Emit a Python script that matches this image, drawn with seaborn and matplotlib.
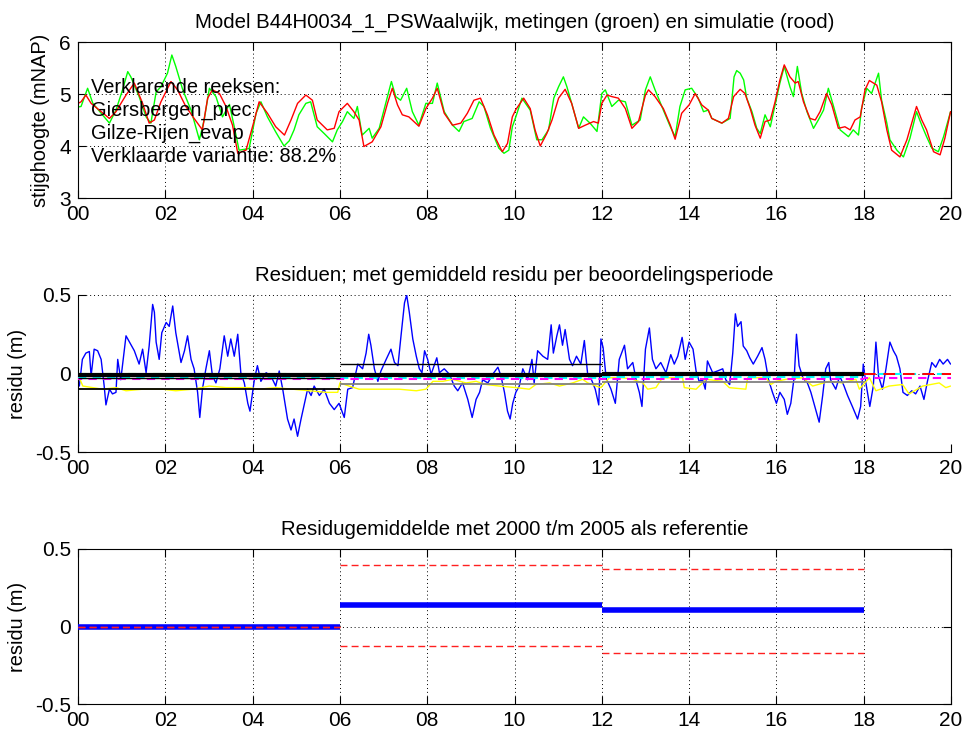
import numpy as np
import pandas as pd
import matplotlib
matplotlib.use("Agg")
import matplotlib.pyplot as plt
import seaborn as sns

# ---------------- data ----------------
meas_t = [2000.00, 2000.07, 2000.22, 2000.34, 2000.56, 2000.72, 2000.87, 2001.02, 2001.14, 2001.21,
          2001.40, 2001.56, 2001.67, 2001.79, 2001.90, 2002.05, 2002.15, 2002.24, 2002.40, 2002.59,
          2002.78, 2002.89, 2003.01, 2003.16, 2003.31, 2003.47, 2003.58, 2003.69, 2003.92, 2004.08,
          2004.19, 2004.34, 2004.53, 2004.72, 2004.84, 2004.95, 2005.06, 2005.22, 2005.33, 2005.48,
          2005.64, 2005.83, 2005.94, 2006.06, 2006.17, 2006.32, 2006.40, 2006.51, 2006.67, 2006.74,
          2006.90, 2007.05, 2007.18, 2007.28, 2007.39, 2007.53, 2007.66, 2007.81, 2007.97, 2008.12,
          2008.23, 2008.39, 2008.58, 2008.73, 2008.84, 2009.03, 2009.19, 2009.30, 2009.45, 2009.64,
          2009.76, 2009.87, 2009.95, 2010.03, 2010.17, 2010.36, 2010.51, 2010.63, 2010.78, 2010.90,
          2011.01, 2011.12, 2011.20, 2011.31, 2011.47, 2011.58, 2011.73, 2011.89, 2012.00, 2012.08,
          2012.23, 2012.38, 2012.54, 2012.69, 2012.88, 2013.00, 2013.11, 2013.22, 2013.41, 2013.57,
          2013.68, 2013.79, 2013.91, 2014.06, 2014.21, 2014.33, 2014.44, 2014.52, 2014.75, 2014.94,
          2015.03, 2015.09, 2015.17, 2015.25, 2015.32, 2015.44, 2015.55, 2015.63, 2015.74, 2015.86,
          2015.97, 2016.08, 2016.18, 2016.31, 2016.39, 2016.48, 2016.58, 2016.70, 2016.85, 2016.96,
          2017.08, 2017.19, 2017.31, 2017.46, 2017.65, 2017.76, 2017.88, 2017.95, 2018.07, 2018.18,
          2018.34, 2018.41, 2018.53, 2018.60, 2018.76, 2018.91, 2019.06, 2019.21, 2019.33, 2019.44,
          2019.56, 2019.71, 2019.83, 2019.99]
meas_v = [4.75, 4.76, 5.11, 4.82, 4.60, 4.44, 4.69, 5.08, 5.43, 5.33,
          4.95, 4.56, 4.44, 5.04, 5.14, 5.40, 5.75, 5.53, 5.08, 4.69,
          4.12, 4.50, 5.11, 4.95, 4.56, 4.80, 4.37, 3.92, 3.95, 4.63,
          4.85, 4.56, 4.27, 4.00, 4.10, 4.31, 4.60, 4.82, 4.85, 4.37,
          4.24, 4.08, 4.31, 4.47, 4.66, 4.53, 4.76, 4.21, 4.34, 4.15,
          4.34, 4.82, 5.24, 4.95, 4.88, 5.11, 4.66, 4.40, 4.82, 4.82,
          5.21, 4.66, 4.40, 4.28, 4.47, 4.53, 4.85, 4.76, 4.34, 3.96,
          3.86, 3.92, 4.37, 4.56, 4.92, 4.69, 4.12, 4.12, 4.31, 4.92,
          5.14, 5.33, 5.14, 4.82, 4.34, 4.56, 4.44, 4.28, 5.01, 5.08,
          4.76, 4.88, 4.85, 4.40, 4.50, 5.08, 5.33, 5.08, 4.69, 4.37,
          4.18, 4.76, 5.08, 5.11, 4.92, 4.66, 4.69, 4.53, 4.44, 4.53,
          5.33, 5.45, 5.40, 5.27, 4.92, 4.66, 4.34, 4.24, 4.60, 4.37,
          4.79, 5.21, 5.53, 5.14, 4.95, 5.53, 5.01, 4.66, 4.34, 4.50,
          4.69, 5.11, 4.76, 4.31, 4.18, 4.31, 4.21, 4.72, 5.11, 5.01,
          5.40, 4.88, 4.44, 4.12, 3.92, 3.79, 4.15, 4.66, 4.40, 4.18,
          3.96, 3.89, 4.18, 4.66]

sim_t = [2000.00, 2000.07, 2000.18, 2000.30, 2000.49, 2000.72, 2000.87, 2001.10, 2001.29, 2001.48,
         2001.63, 2001.75, 2001.90, 2002.13, 2002.28, 2002.47, 2002.66, 2002.85, 2002.97, 2003.08,
         2003.24, 2003.39, 2003.54, 2003.66, 2003.85, 2004.04, 2004.15, 2004.34, 2004.53, 2004.73,
         2004.88, 2005.03, 2005.22, 2005.37, 2005.48, 2005.60, 2005.71, 2005.87, 2005.98, 2006.17,
         2006.32, 2006.44, 2006.55, 2006.74, 2006.94, 2007.09, 2007.20, 2007.32, 2007.43, 2007.58,
         2007.81, 2007.97, 2008.12, 2008.23, 2008.39, 2008.58, 2008.77, 2008.92, 2009.07, 2009.22,
         2009.38, 2009.53, 2009.72, 2009.84, 2009.95, 2010.03, 2010.21, 2010.36, 2010.47, 2010.59,
         2010.74, 2010.86, 2011.01, 2011.16, 2011.31, 2011.47, 2011.62, 2011.81, 2011.92, 2012.00,
         2012.12, 2012.23, 2012.38, 2012.54, 2012.69, 2012.84, 2013.00, 2013.07, 2013.22, 2013.41,
         2013.57, 2013.68, 2013.83, 2014.00, 2014.14, 2014.29, 2014.44, 2014.52, 2014.75, 2014.90,
         2015.02, 2015.17, 2015.28, 2015.40, 2015.51, 2015.63, 2015.74, 2015.86, 2015.97, 2016.08,
         2016.18, 2016.31, 2016.43, 2016.50, 2016.62, 2016.77, 2016.89, 2017.00, 2017.15, 2017.27,
         2017.42, 2017.57, 2017.69, 2017.80, 2017.92, 2018.03, 2018.13, 2018.30, 2018.41, 2018.53,
         2018.64, 2018.83, 2018.99, 2019.10, 2019.21, 2019.33, 2019.44, 2019.60, 2019.75, 2019.86,
         2019.99]
sim_v = [4.82, 4.85, 4.98, 4.82, 4.69, 4.53, 4.66, 4.98, 5.21, 4.82,
         4.44, 4.50, 4.85, 5.24, 5.08, 4.76, 4.53, 4.31, 4.92, 5.08,
         5.01, 4.76, 4.40, 3.86, 3.92, 4.50, 4.85, 4.63, 4.37, 4.21,
         4.50, 4.82, 4.98, 4.88, 4.50, 4.40, 4.31, 4.34, 4.66, 4.82,
         4.66, 4.50, 3.99, 4.08, 4.37, 4.82, 5.11, 4.79, 4.60, 4.56,
         4.38, 4.72, 4.92, 5.11, 4.63, 4.40, 4.44, 4.63, 4.88, 4.92,
         4.60, 4.21, 3.89, 4.05, 4.56, 4.70, 4.92, 4.72, 4.31, 4.00,
         4.24, 4.50, 4.92, 5.09, 4.82, 4.34, 4.40, 4.47, 4.44, 4.82,
         4.98, 4.95, 4.92, 4.72, 4.34, 4.47, 4.98, 5.08, 4.95, 4.72,
         4.40, 4.13, 4.63, 4.79, 5.01, 4.79, 4.69, 4.53, 4.44, 4.53,
         4.95, 5.09, 5.01, 4.72, 4.40, 4.15, 4.47, 4.50, 4.85, 5.27,
         5.56, 5.33, 5.21, 5.24, 4.85, 4.53, 4.50, 4.66, 5.01, 4.79,
         4.34, 4.37, 4.31, 4.50, 4.56, 5.08, 5.26, 5.17, 4.85, 4.31,
         3.92, 3.79, 4.12, 4.44, 4.76, 4.50, 4.31, 3.89, 3.83, 4.15,
         4.66]

res_t = [2000.03, 2000.10, 2000.18, 2000.26, 2000.30, 2000.37, 2000.45, 2000.53, 2000.60, 2000.64,
         2000.72, 2000.79, 2000.87, 2000.91, 2000.98, 2001.10, 2001.18, 2001.29, 2001.40, 2001.48,
         2001.56, 2001.63, 2001.71, 2001.75, 2001.79, 2001.86, 2001.92, 2002.02, 2002.09, 2002.17,
         2002.24, 2002.36, 2002.44, 2002.51, 2002.59, 2002.66, 2002.74, 2002.79, 2002.85, 2002.93,
         2003.01, 2003.08, 2003.16, 2003.25, 2003.35, 2003.43, 2003.50, 2003.58, 2003.66, 2003.73,
         2003.81, 2003.89, 2003.94, 2004.04, 2004.11, 2004.19, 2004.31, 2004.42, 2004.53, 2004.61,
         2004.69, 2004.80, 2004.88, 2004.95, 2005.03, 2005.11, 2005.18, 2005.26, 2005.34, 2005.41,
         2005.53, 2005.64, 2005.76, 2005.87, 2005.98, 2006.10, 2006.18, 2006.29, 2006.41, 2006.52,
         2006.60, 2006.66, 2006.71, 2006.79, 2006.87, 2006.94, 2007.06, 2007.17, 2007.25, 2007.33,
         2007.40, 2007.48, 2007.53, 2007.59, 2007.67, 2007.75, 2007.82, 2007.88, 2007.94, 2008.01,
         2008.09, 2008.22, 2008.28, 2008.39, 2008.51, 2008.62, 2008.70, 2008.81, 2008.93, 2009.03,
         2009.12, 2009.20, 2009.27, 2009.39, 2009.50, 2009.62, 2009.69, 2009.77, 2009.84, 2009.90,
         2009.96, 2010.03, 2010.11, 2010.19, 2010.30, 2010.40, 2010.45, 2010.53, 2010.65, 2010.76,
         2010.84, 2010.89, 2010.97, 2011.03, 2011.10, 2011.16, 2011.26, 2011.33, 2011.42, 2011.52,
         2011.60, 2011.68, 2011.75, 2011.85, 2011.93, 2011.98, 2012.03, 2012.10, 2012.21, 2012.31,
         2012.40, 2012.52, 2012.59, 2012.71, 2012.80, 2012.86, 2012.92, 2013.00, 2013.09, 2013.16,
         2013.24, 2013.35, 2013.47, 2013.58, 2013.66, 2013.74, 2013.84, 2013.91, 2014.00, 2014.09,
         2014.16, 2014.23, 2014.31, 2014.37, 2014.42, 2014.54, 2014.65, 2014.77, 2014.84, 2014.93,
         2015.00, 2015.06, 2015.11, 2015.19, 2015.24, 2015.32, 2015.39, 2015.47, 2015.57, 2015.67,
         2015.74, 2015.82, 2015.91, 2016.00, 2016.08, 2016.18, 2016.25, 2016.33, 2016.41, 2016.46,
         2016.52, 2016.61, 2016.71, 2016.79, 2016.89, 2016.98, 2017.06, 2017.13, 2017.20, 2017.24,
         2017.36, 2017.45, 2017.55, 2017.63, 2017.74, 2017.86, 2017.93, 2017.99, 2018.05, 2018.14,
         2018.22, 2018.28, 2018.34, 2018.43, 2018.51, 2018.60, 2018.68, 2018.75, 2018.83, 2018.90,
         2019.00, 2019.10, 2019.19, 2019.29, 2019.38, 2019.46, 2019.56, 2019.65, 2019.74, 2019.82,
         2019.92, 2019.99]
res_v = [-0.08, 0.09, 0.13, 0.14, -0.016, 0.155, 0.145, 0.09, -0.08, -0.20,
         -0.10, -0.13, -0.12, 0.09, -0.04, 0.24, 0.20, 0.145, 0.06, 0.155,
         0.005, 0.175, 0.44, 0.39, 0.20, 0.09, 0.26, 0.325, 0.30, 0.43,
         0.26, 0.07, 0.145, 0.24, 0.09, 0.03, -0.12, -0.28, -0.10, 0.03,
         0.145, -0.016, -0.06, 0.03, 0.24, 0.11, 0.22, 0.11, 0.25, 0.005,
         -0.06, -0.19, -0.24, -0.04, 0.05, -0.05, 0.005, -0.016, -0.08, 0.016,
         -0.10, -0.29, -0.36, -0.29, -0.40, -0.29, -0.20, -0.10, -0.14, -0.08,
         -0.14, -0.10, -0.19, -0.23, -0.19, -0.28, -0.10, -0.09, 0.06, 0.03,
         0.13, 0.25, 0.18, 0.03, -0.05, 0.016, 0.09, 0.155, 0.07, 0.05,
         0.24, 0.45, 0.50, 0.39, 0.22, 0.11, 0.03, 0.005, 0.145, 0.09,
         -0.005, 0.10, 0.005, 0.03, -0.005, -0.08, -0.11, -0.06, -0.165, -0.28,
         -0.165, -0.12, -0.04, -0.06, -0.005, 0.04, -0.016, -0.12, -0.24, -0.29,
         -0.19, -0.12, -0.08, 0.03, -0.04, 0.09, -0.06, 0.145, 0.11, 0.09,
         0.31, 0.13, 0.24, 0.31, 0.18, 0.28, 0.09, 0.05, 0.11, 0.06,
         0.21, -0.016, -0.03, -0.10, -0.20, 0.22, 0.165, -0.03, -0.10, -0.19,
         0.09, 0.18, 0.03, 0.07, -0.06, -0.12, -0.21, 0.155, 0.29, 0.09,
         0.03, 0.07, 0.005, 0.12, 0.06, 0.11, 0.23, 0.09, 0.20, 0.155,
         0.016, -0.05, -0.04, -0.10, 0.08, 0.005, 0.016, 0.03, -0.04, -0.07,
         0.13, 0.38, 0.30, 0.33, 0.175, 0.145, 0.10, 0.06, 0.11, 0.165,
         0.09, -0.04, -0.12, -0.19, -0.12, -0.165, -0.26, -0.19, -0.016, 0.25,
         0.05, -0.03, -0.06, -0.12, -0.22, -0.31, -0.14, 0.03, 0.07, -0.04,
         -0.10, -0.016, -0.08, -0.14, -0.21, -0.29, -0.21, 0.06, -0.06, -0.21,
         -0.08, 0.20, -0.016, -0.10, 0.03, 0.20, 0.145, 0.11, 0.03, -0.12,
         -0.14, -0.11, -0.13, -0.08, -0.165, -0.05, 0.07, 0.04, 0.09, 0.06,
         0.09, 0.06]

yel_t = [2000.03, 2000.11, 2000.34, 2000.56, 2000.87, 2001.10, 2001.48, 2001.94, 2002.24, 2002.63,
         2003.01, 2003.39, 2003.92, 2004.15, 2004.53, 2004.92, 2005.30, 2005.68, 2005.95, 2006.00,
         2006.21, 2006.44, 2006.60, 2006.98, 2007.36, 2007.75, 2007.97, 2008.13, 2008.36, 2008.58,
         2008.89, 2009.12, 2009.35, 2009.65, 2010.04, 2010.34, 2010.49, 2010.80, 2011.03, 2011.33,
         2011.56, 2011.68, 2011.87, 2011.98, 2012.17, 2012.48, 2012.71, 2012.94, 2013.05, 2013.24,
         2013.39, 2013.85, 2013.89, 2014.16, 2014.39, 2014.77, 2014.92, 2015.30, 2015.34, 2015.76,
         2015.87, 2015.99, 2016.22, 2016.60, 2016.83, 2017.21, 2017.51, 2017.82, 2017.90, 2018.13,
         2018.28, 2018.58, 2018.89, 2019.04, 2019.35, 2019.73, 2019.88, 2019.99]
yel_v = [-0.027, -0.08, -0.09, -0.10, -0.09, -0.11, -0.10, -0.10, -0.11, -0.10,
         -0.08, -0.09, -0.09, -0.10, -0.09, -0.10, -0.11, -0.12, -0.12, -0.06,
         -0.08, -0.10, -0.10, -0.10, -0.10, -0.11, -0.10, -0.05, -0.05, -0.037,
         -0.06, -0.05, -0.07, -0.08, -0.09, -0.10, -0.07, -0.06, -0.08, -0.06,
         -0.037, -0.06, -0.08, -0.09, -0.027, -0.027, -0.037, -0.06, -0.10, -0.09,
         -0.027, -0.027, -0.09, -0.10, -0.037, -0.05, -0.09, -0.10, -0.027, -0.027,
         -0.07, -0.05, -0.037, -0.027, -0.08, -0.05, -0.06, -0.037, -0.10, -0.027,
         -0.11, -0.08, -0.07, -0.13, -0.08, -0.06, -0.09, -0.08]

period_start = [2000, 2006, 2012, 2018]
period_end = [2006, 2012, 2018, 2020]
black_mean = [-0.008, -0.008, -0.006, np.nan]
bound_hi = [-0.030, 0.063, np.nan, np.nan]
bound_lo = [-0.100, -0.070, -0.055, np.nan]
red_lvl = [-0.012, -0.012, -0.012, -0.006]
mag_lvl = [-0.033, -0.033, -0.033, -0.027]
cyan_lvl = [-0.028, -0.028, -0.025, 0.000]
green_lvl = [-0.006, -0.006, -0.006, np.nan]

ref_start = [2000, 2006, 2012]
ref_end = [2006, 2012, 2018]
ref_mean = [0.0, 0.139, 0.104]
ref_hi = [0.0, 0.400, 0.373]
ref_lo = [0.0, -0.124, -0.171]

xticks = [2000, 2002, 2004, 2006, 2008, 2010, 2012, 2014, 2016, 2018, 2020]
xticklabels = ['00', '02', '04', '06', '08', '10', '12', '14', '16', '18', '20']

title_top = 'Model B44H0034_1_PSWaalwijk, metingen (groen) en simulatie (rood)'
title_mid = 'Residuen; met gemiddeld residu per beoordelingsperiode'
title_bot = 'Residugemiddelde met 2000 t/m 2005 als referentie'
annot_lines = ['Verklarende reeksen:', 'Giersbergen_prec', 'Gilze-Rijen_evap',
               'Verklaarde variantie: 88.2%']
annot_y = [5.02, 4.58, 4.135, 3.69]

# ---------------- style ----------------
sns.set_theme(style='white')
plt.rcParams['font.family'] = ['Liberation Sans', 'DejaVu Sans']
plt.rcParams['axes.edgecolor'] = 'black'
plt.rcParams['axes.linewidth'] = 0.8

fig = plt.figure(figsize=(9.64, 7.32), dpi=100)
fig.patch.set_facecolor('white')
L, W = 78 / 964, 873 / 964
ax1 = fig.add_axes([L, 1 - 198 / 732, W, 156 / 732])
ax2 = fig.add_axes([L, 1 - 452 / 732, W, 157 / 732])
ax3 = fig.add_axes([L, 1 - 704 / 732, W, 155 / 732])

TICK_FS = 15
LAB_FS = 14.4
TITLE_FS = 14.7


def style_axes(ax, box=True):
    ax.set_facecolor('white')
    ax.set_xlim(2000, 2020)
    ax.set_xticks(xticks)
    ax.set_xticklabels(xticklabels)
    ax.tick_params(direction='in', length=6, width=0.8, labelsize=TICK_FS,
                   top=box, right=box, bottom=True, left=True, colors='black', pad=5)
    ax.grid(True, linestyle=(0, (1, 3)), color='black', linewidth=0.7)
    for s in ax.spines.values():
        s.set_color('black')
        s.set_linewidth(0.8)
    if not box:
        ax.spines['top'].set_visible(False)
        ax.spines['right'].set_visible(False)
    ax.set_xlabel('')


# ---- top panel ----
df_meas = pd.DataFrame({'t': meas_t, 'v': meas_v})
df_sim = pd.DataFrame({'t': sim_t, 'v': sim_v})
sns.lineplot(data=df_meas, x='t', y='v', ax=ax1, color='#00ff00', lw=1.0, estimator=None, sort=False)
sns.lineplot(data=df_sim, x='t', y='v', ax=ax1, color='#ff0000', lw=1.0, estimator=None, sort=False)
style_axes(ax1)
ax1.set_ylim(3, 6)
ax1.set_yticks([3, 4, 5, 6])
ax1.set_yticklabels(['3', '4', '5', '6'])
ax1.set_ylabel('stijghoogte (mNAP)', fontsize=LAB_FS, color='black')
ax1.yaxis.set_label_coords(-0.032, 0.5)
ax1.set_title(title_top, fontsize=TITLE_FS, color='black', pad=10)
for txt, yv in zip(annot_lines, annot_y):
    ax1.text(2000.30, yv, txt, fontsize=LAB_FS, color='black', va='baseline', ha='left')

# ---- middle panel ----
df_res = pd.DataFrame({'t': res_t, 'v': res_v})
df_yel = pd.DataFrame({'t': yel_t, 'v': yel_v})
sns.lineplot(data=df_res, x='t', y='v', ax=ax2, color='#0000ff', lw=1.0, estimator=None, sort=False, zorder=2)
sns.lineplot(data=df_yel, x='t', y='v', ax=ax2, color='#ffff00', lw=1.0, estimator=None, sort=False, zorder=3)
ax2.hlines(cyan_lvl, period_start, period_end, colors='#00ffff', lw=1.5, linestyles=(0, (4, 3)), zorder=4)
ax2.hlines(mag_lvl, period_start, period_end, colors='#ff00ff', lw=1.5, linestyles=(2, (4, 3)), zorder=4)
ax2.hlines(green_lvl, period_start, period_end, colors='#00ff00', lw=1.5, linestyles=(0, (4, 8)), zorder=4)
ax2.hlines(red_lvl, period_start, period_end, colors='#ff0000', lw=1.4, linestyles=(0, (6, 4)), zorder=5)
ax2.hlines(black_mean, period_start, period_end, colors='black', lw=3.0, zorder=6)
ax2.hlines(bound_hi, period_start, period_end, colors='black', lw=1.0, zorder=6)
ax2.hlines(bound_lo, period_start, period_end, colors=['black', 'gray', 'gray', 'gray'], lw=1.3, zorder=6)
style_axes(ax2, box=False)
ax2.set_ylim(-0.5, 0.5)
ax2.set_yticks([-0.5, 0, 0.5])
ax2.set_yticklabels(['-0.5', '0', '0.5'])
ax2.set_ylabel('residu (m)', fontsize=LAB_FS, color='black')
ax2.yaxis.set_label_coords(-0.058, 0.5)
ax2.set_title(title_mid, fontsize=TITLE_FS, color='black', pad=10)

# ---- bottom panel ----
ax3.hlines(ref_mean, ref_start, ref_end, colors='#0000ff', lw=4.0, zorder=3)
ax3.hlines(ref_hi, ref_start, ref_end, colors='#ff2020', lw=1.0, linestyles=(0, (5, 3)), zorder=4)
ax3.hlines(ref_lo, ref_start, ref_end, colors='#ff2020', lw=1.0, linestyles=(0, (5, 3)), zorder=4)
style_axes(ax3)
ax3.set_ylim(-0.5, 0.5)
ax3.set_yticks([-0.5, 0, 0.5])
ax3.set_yticklabels(['-0.5', '0', '0.5'])
ax3.set_ylabel('residu (m)', fontsize=LAB_FS, color='black')
ax3.yaxis.set_label_coords(-0.058, 0.5)
ax3.set_title(title_bot, fontsize=TITLE_FS, color='black', pad=10)

fig.savefig('out.png', dpi=100, facecolor='white')
